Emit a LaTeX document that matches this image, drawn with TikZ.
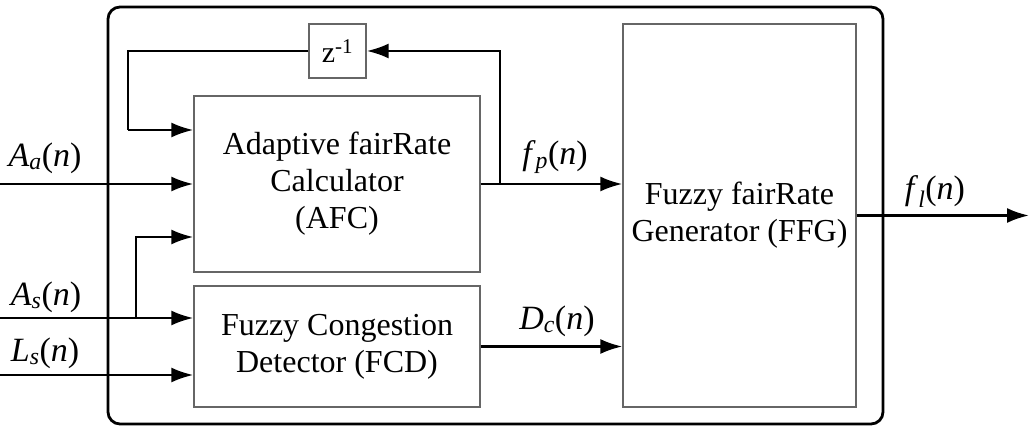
\documentclass[tikz,border=0pt]{standalone}
\usepackage{fontspec}
\setmainfont{Liberation Serif}
\usetikzlibrary{arrows.meta}

\newcommand{\sig}[2]{\textit{#1}\textsubscript{\textit{#2}}(\textit{n})}

\begin{document}
\begin{tikzpicture}[x=1pt,y=-1pt,
    blockbox/.style={draw=black!60,line width=1.3pt,fill=white,align=center,
        inner sep=0pt,font=\fontsize{32}{37}\selectfont},
    sigline/.style={line width=2.6pt,-{Latex[length=22pt,width=15pt]}},
    plainline/.style={line width=2.6pt},
    siglabel/.style={font=\fontsize{34}{38}\selectfont,inner sep=0pt}]
			\useasboundingbox (0,0) rectangle (1031,443);
			\draw[line width=2.8pt, rounded corners=12pt] (108,7) rectangle (883,424);
			\node[blockbox, minimum width=286pt, minimum height=176pt] (afc) at (337,184) {Adaptive fairRate\\Calculator\\(AFC)};
			\node[blockbox, minimum width=286pt, minimum height=121pt] (fcd) at (337,346.5) {Fuzzy Congestion\\Detector (FCD)};
			\node[blockbox, minimum width=233pt, minimum height=383pt] (ffg) at (739.5,215.5) {Fuzzy fairRate\\Generator (FFG)};
			\node[blockbox, minimum width=57pt, minimum height=54pt, font=\fontsize{30}{32}\selectfont] (zinv) at (337.5,51) {z\textsuperscript{-1}};
			% inputs
			\coordinate (ina) at (0,184);
			\coordinate (ins) at (0,318);
			\coordinate (inl) at (0,375);
			\coordinate (brs) at (136,318);
			\coordinate (brup) at (136,237);
			\draw[sigline] (ina) -- (ina -| afc.west);
			\draw[sigline] (ins) -- (ins -| fcd.west);
			\draw[sigline] (inl) -- (inl -| fcd.west);
			\draw[sigline] (brs) -- (brup) -- (brup -| afc.west);
			% feedback
			\coordinate (tap) at (500,184);
			\coordinate (fbl) at (128,130);
			\draw[sigline] (tap) |- (zinv.east);
			\draw[plainline] (zinv.west) -| (fbl);
			\draw[sigline] (fbl) -- (fbl -| afc.west);
			% outputs
			\coordinate (outl) at (1029,215.5);
			\draw[sigline] (afc.east) -- (afc.east -| ffg.west);
			\draw[sigline] (fcd.east) -- (fcd.east -| ffg.west);
			\draw[sigline] (ffg.east) -- (outl);
			% labels
			\node[siglabel] (laa) at (45,158) {\sig{A}{a}};
			\node[siglabel] (las) at (46,297) {\sig{A}{s}};
			\node[siglabel] (lls) at (45,353) {\sig{L}{s}};
			\node[siglabel] (lfp) at (555,157) {\sig{f}{p}};
			\node[siglabel] (ldc) at (557,321) {\sig{D}{c}};
			\node[siglabel] (lfl) at (935,192) {\sig{f}{l}};
		\end{tikzpicture}
\end{document}
